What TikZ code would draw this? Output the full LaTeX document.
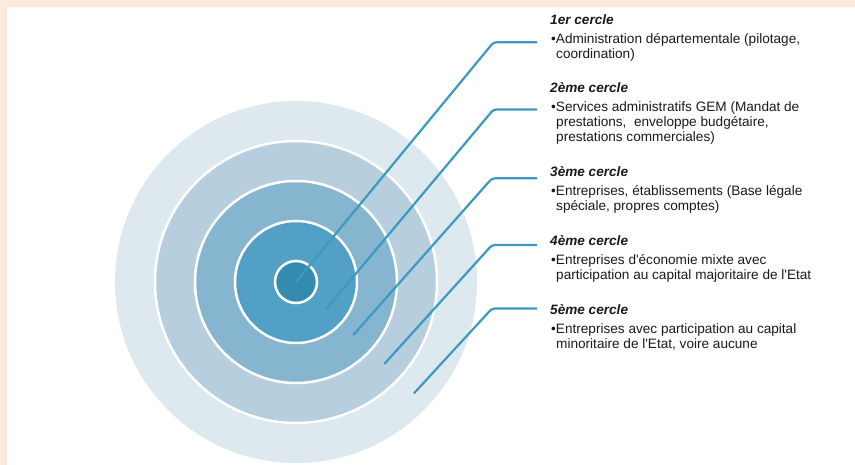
\documentclass[tikz,border=0pt]{standalone}
\usepackage{fontspec}
\setmainfont{Liberation Sans}
\definecolor{peach}{HTML}{FCE9DC}
\definecolor{ringA}{HTML}{DEE8EF}
\definecolor{ringB}{HTML}{B6CEDD}
\definecolor{ringC}{HTML}{85B5CF}
\definecolor{ringD}{HTML}{53A0C6}
\definecolor{ringE}{HTML}{338CB0}
\definecolor{conncol}{HTML}{3A9AC0}
\definecolor{txtcol}{HTML}{1A1A1A}
\begin{document}
\begin{tikzpicture}[x=1pt,y=-1pt,
  ringstroke/.style={draw=white,line width=2.5pt},
  conn/.style={draw=conncol,line width=2.2pt,rounded corners=3pt},
  bodytxt/.style={anchor=base west,inner sep=0pt,text=txtcol,font=\fontsize{13.6}{15}\selectfont},
  titletxt/.style={anchor=base west,inner sep=0pt,text=txtcol,font=\fontsize{13.6}{15}\selectfont\bfseries\itshape}]
\useasboundingbox (0,0) rectangle (855,465);
\fill[peach] (0,0) rectangle (855,465);
\fill[white] (7,7.5) rectangle (855,465);
% rings
\coordinate (ctr) at (296,282);
\fill[ringA] (ctr) circle[radius=181];
\filldraw[fill=ringB,ringstroke] (ctr) circle[radius=141];
\filldraw[fill=ringC,ringstroke] (ctr) circle[radius=101];
\filldraw[fill=ringD,ringstroke] (ctr) circle[radius=61];
\filldraw[fill=ringE,ringstroke] (ctr) circle[radius=21];
% connector points
\coordinate (s1) at (296,282);   \coordinate (c1) at (493.5,42.3);  \coordinate (e1) at (537,42.3);
\coordinate (s2) at (326,309.3); \coordinate (c2) at (493.5,109.5); \coordinate (e2) at (537,109.5);
\coordinate (s3) at (353.3,335); \coordinate (c3) at (492,178.3);   \coordinate (e3) at (537,178.3);
\coordinate (s4) at (384.3,364); \coordinate (c4) at (492,245);     \coordinate (e4) at (537,245);
\coordinate (s5) at (414,393.3); \coordinate (c5) at (492,308.5);   \coordinate (e5) at (537,308.5);
\foreach \i in {1,...,5}{\draw[conn] (s\i) -- (c\i) -- (e\i);}
% texts
\node[titletxt] (t1) at (550,25) {1er cercle};
\node[bodytxt] (b1a) at (551,43.5) {•Administration départementale (pilotage,};
\node[bodytxt] (b1b) at (556,58.5) {coordination)};
\node[titletxt] (t2) at (550,93) {2ème cercle};
\node[bodytxt] (b2a) at (551,111.5) {•Services administratifs GEM (Mandat de};
\node[bodytxt] (b2b) at (556,126.5) {prestations,\ \ enveloppe budgétaire,};
\node[bodytxt] (b2c) at (556,141.5) {prestations commerciales)};
\node[titletxt] (t3) at (550,177) {3ème cercle};
\node[bodytxt] (b3a) at (551,195.5) {•Entreprises, établissements (Base légale};
\node[bodytxt] (b3b) at (556,210.5) {spéciale, propres comptes)};
\node[titletxt] (t4) at (550,246) {4ème cercle};
\node[bodytxt] (b4a) at (551,264.5) {•Entreprises d\textquotesingle économie mixte avec};
\node[bodytxt] (b4b) at (556,279.5) {participation au capital majoritaire de l\textquotesingle Etat};
\node[titletxt] (t5) at (550,315) {5ème cercle};
\node[bodytxt] (b5a) at (551,333.5) {•Entreprises avec participation au capital};
\node[bodytxt] (b5b) at (556,348.5) {minoritaire de l\textquotesingle Etat, voire aucune};
\end{tikzpicture}
\end{document}
